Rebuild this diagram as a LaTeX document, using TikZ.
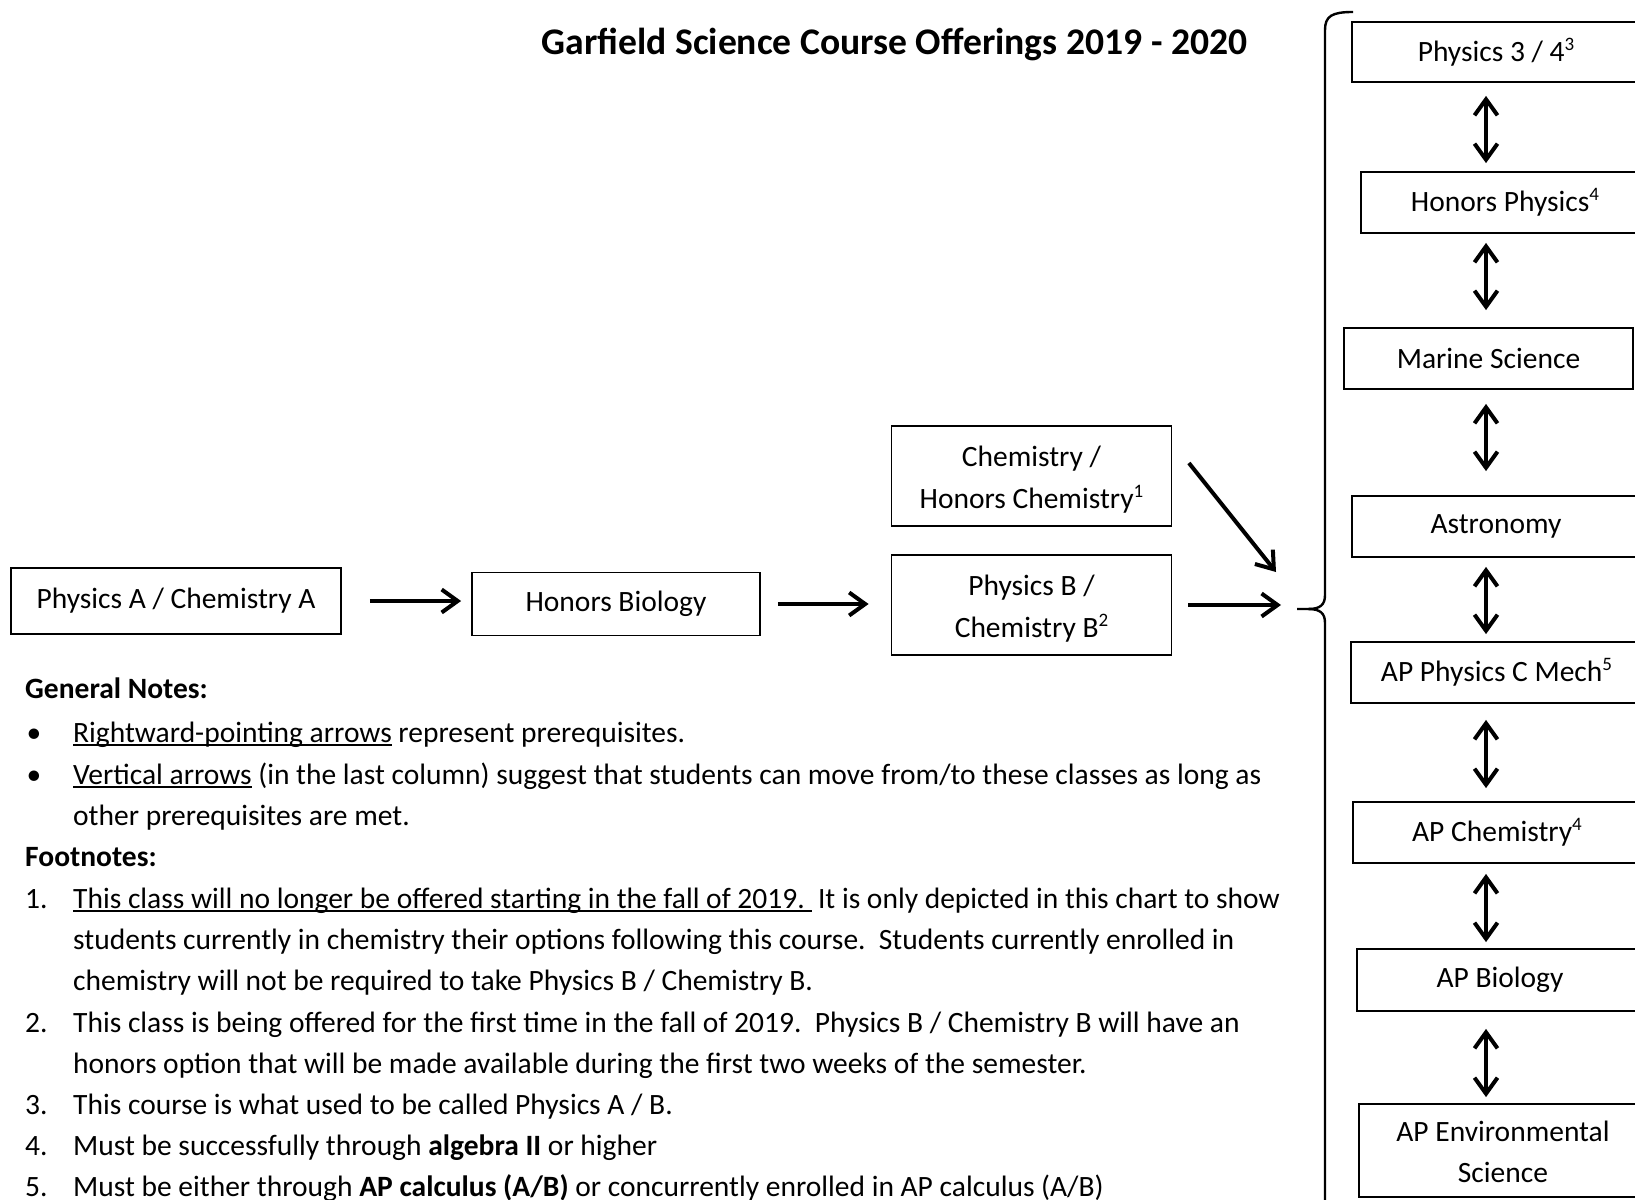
\documentclass[tikz,border=0pt]{standalone}
\usepackage{fontspec}
\setmainfont{Carlito}
\usetikzlibrary{arrows.meta,calc}
\newcommand\supn[1]{\raisebox{0.36em}{\fontsize{19}{19}\selectfont #1}}
\newcommand\ulin[1]{\setbox0\hbox{#1}\rlap{\rule[-3.5pt]{\wd0}{1.8pt}}\box0\relax}
\newcommand\dnx[1]{\raisebox{-3pt}[\height][\depth]{\begin{tabular}{@{}c@{}}#1\end{tabular}}}
\tikzset{
  box/.style={draw, line width=1.8pt, inner sep=0pt, align=center},
  arr/.style={line width=4pt, -{Straight Barb[length=16pt,width=23pt]}},
  darr/.style={line width=4pt, {Straight Barb[length=16pt,width=23pt]}-{Straight Barb[length=16pt,width=23pt]}},
  txt/.style={anchor=base west, inner sep=0pt},
  numlbl/.style={anchor=base west, inner sep=0pt},
}
\begin{document}
\begin{tikzpicture}[x=1pt, y=-1pt, font=\fontsize{29.5}{41.5}\selectfont]
\useasboundingbox (0,0) rectangle (1635,1199);
\fill[white] (0,0) rectangle (1635,1199);
\clip (0,0) rectangle (1635,1199);

% title
\node[anchor=base, inner sep=0pt, font=\bfseries\fontsize{37.6}{44}\selectfont] (title) at (894.5,55) {Garfield Science Course Offerings 2019 - 2020};

% left flow
\node[box, minimum width=330pt, minimum height=66pt] (physA) at (176,601) {Physics A / Chemistry A};
\node[box, minimum width=288pt, minimum height=63pt] (hbio) at (616,604) {Honors Biology};
\node[box, minimum width=280pt, minimum height=100pt] (chem) at (1031.5,476) {\dnx{Chemistry /\\Honors Chemistry\supn{1}}};
\node[box, minimum width=280pt, minimum height=100pt] (physB) at (1031.5,605) {\dnx{Physics B /\\Chemistry B\supn{2}}};

\coordinate (brace) at (1297,609);
\coordinate (dend) at (1276,572);
\coordinate (ax) at (1486,0);

\draw[arr, shorten <=28pt, shorten >=10pt] (physA.east) -- (physA.east -| hbio.west);
\draw[arr, shorten <=17pt, shorten >=22pt] (hbio.east) -- (hbio.east -| physB.west);
\draw[arr, shorten <=16pt, shorten >=16pt] (physB.east) -- (physB.east -| brace);
\draw[arr] ([shift={(16.5,-13)}]chem.east) -- (dend);

% brace
\draw[line width=2.4pt] (brace) -- (1308,609) .. controls (1320,609) and (1325,605) .. (1325,595) -- (1325,30) .. controls (1325,16) and (1332,12) .. (1353,12);
\draw[line width=2.4pt] (1308,609) .. controls (1320,609) and (1325,613) .. (1325,623) -- (1325,1210);

% right column
\node[box, minimum width=288pt, minimum height=60pt] (p34) at (1496,52) {Physics 3 / 4\supn{3}};
\node[box, minimum width=288pt, minimum height=61pt] (hphys) at (1505,202.5) {Honors Physics\supn{4}};
\node[box, minimum width=289pt, minimum height=61pt] (marine) at (1488.5,358.5) {Marine Science};
\node[box, minimum width=288pt, minimum height=61pt] (astro) at (1496,526.5) {Astronomy};
\node[box, minimum width=291pt, minimum height=61pt] (apc) at (1496.5,672.5) {AP Physics C Mech\supn{5}};
\node[box, minimum width=288pt, minimum height=61pt] (apchem) at (1497,832.5) {AP Chemistry\supn{4}};
\node[box, minimum width=286pt, minimum height=62pt] (apbio) at (1500,980) {AP Biology};
\node[box, minimum width=288pt, minimum height=93pt] (apenv) at (1503,1150.5) {\dnx{AP Environmental\\Science}};

\draw[darr, shorten <=13pt, shorten >=8pt] (p34.south -| ax) -- (hphys.north -| ax);
\draw[darr, shorten <=9pt, shorten >=17pt] (hphys.south -| ax) -- (marine.north -| ax);
\draw[darr, shorten <=14pt, shorten >=24pt] (marine.south -| ax) -- (astro.north -| ax);
\draw[darr, shorten <=9pt, shorten >=7pt] (astro.south -| ax) -- (apc.north -| ax);
\draw[darr, shorten <=16pt, shorten >=13pt] (apc.south -| ax) -- (apchem.north -| ax);
\draw[darr, shorten <=10pt, shorten >=6pt] (apchem.south -| ax) -- (apbio.north -| ax);
\draw[darr, shorten <=17pt, shorten >=6pt] (apbio.south -| ax) -- (apenv.north -| ax);

% notes
\node[txt, font=\bfseries\fontsize{29.5}{41.5}\selectfont] (l0) at (25,698.5) {General Notes:};
\node[anchor=base, inner sep=0pt] (b1) at (34,742) {\textbullet};
\node[txt] (l1) at (73,742) {\ulin{Rightward-pointing arrows} represent prerequisites.};
\node[anchor=base, inner sep=0pt] (b2) at (34,784) {\textbullet};
\node[txt] (l2) at (73,784) {\ulin{Vertical arrows} (in the last column) suggest that students can move from/to these classes as long as};
\node[txt] (l3) at (73,825) {other prerequisites are met.};
\node[txt, font=\bfseries\fontsize{29.5}{41.5}\selectfont] (l4) at (25,866.5) {Footnotes:};
\node[numlbl] (n1) at (25,908) {1.};
\node[txt] (l5) at (73,908) {\frenchspacing\ulin{This class will no longer be offered starting in the fall of 2019.\ }\ It is only depicted in this chart to show};
\node[txt] (l6) at (73,949) {\frenchspacing students currently in chemistry their options following this course.\ \ Students currently enrolled in};
\node[txt] (l7) at (73,990.5) {chemistry will not be required to take Physics B / Chemistry B.};
\node[numlbl] (n2) at (25,1032) {2.};
\node[txt] (l8) at (73,1032) {\frenchspacing This class is being offered for the first time in the fall of 2019.\ \ Physics B / Chemistry B will have an};
\node[txt] (l9) at (73,1073) {honors option that will be made available during the first two weeks of the semester.};
\node[numlbl] (n3) at (25,1114.5) {3.};
\node[txt] (l10) at (73,1114.5) {This course is what used to be called Physics A / B.};
\node[numlbl] (n4) at (25,1155.5) {4.};
\node[txt] (l11) at (73,1155.5) {Must be successfully through \textbf{algebra II} or higher};
\node[numlbl] (n5) at (25,1196.5) {5.};
\node[txt] (l12) at (73,1196.5) {Must be either through \textbf{AP calculus (A/B)} or concurrently enrolled in AP calculus (A/B)};
\end{tikzpicture}
\end{document}
